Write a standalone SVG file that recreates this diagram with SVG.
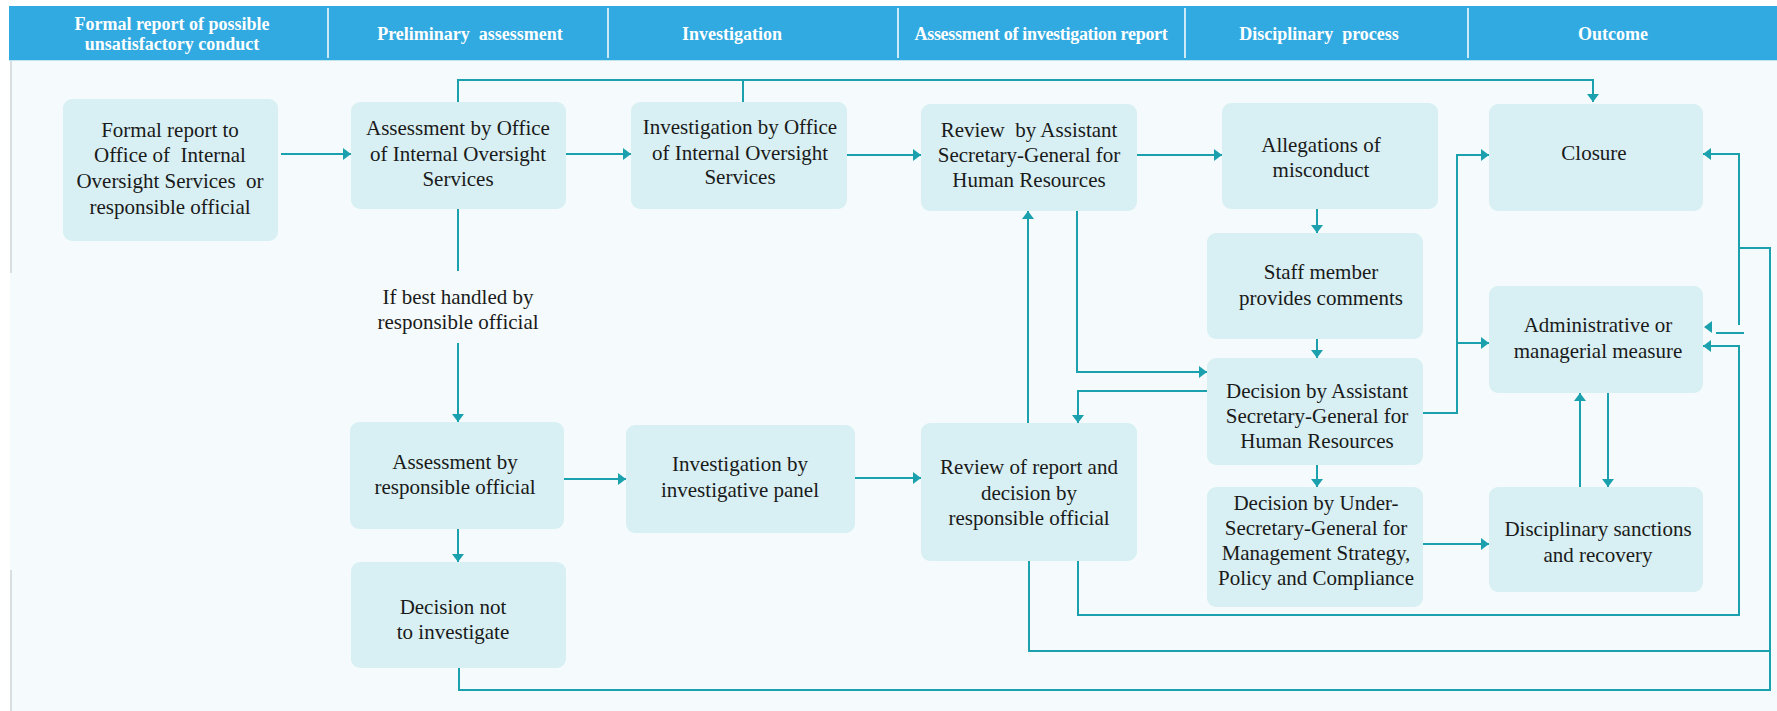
<svg xmlns="http://www.w3.org/2000/svg" width="1777" height="711" viewBox="0 0 1777 711">
<defs>
<style>
.hdr{fill:#31aae1}
.div{stroke:#ffffff;stroke-width:1.5}
.ht{font-family:"Liberation Serif","Times New Roman",serif;font-weight:bold;font-size:18px;fill:#ffffff;text-anchor:middle;white-space:pre}
.box{fill:#d8f0f3}
.t{font-family:"Liberation Serif","Times New Roman",serif;font-size:21px;fill:#1a1a1a;text-anchor:middle;white-space:pre}
.c{fill:none;stroke:#1ba1ae;stroke-width:2}
.a{marker-end:url(#ah)}
</style>
<marker id="ah" markerUnits="userSpaceOnUse" markerWidth="9" markerHeight="13" refX="8" refY="6" orient="auto">
<path d="M0,0 L8,6 L0,12 z" fill="#1ba1ae"/>
</marker>
</defs>
<rect x="0" y="0" width="1777" height="711" fill="#ffffff"/>
<rect x="10" y="60" width="1767" height="651" fill="#f5fbfc"/>
<line x1="11" y1="60" x2="11" y2="273" stroke="#cfd6d8" stroke-width="1.5"/>
<line x1="11" y1="570" x2="11" y2="711" stroke="#cfd6d8" stroke-width="1.5"/>
<g id="header">
<rect class="hdr" x="9" y="6" width="1768" height="54"/>
<line x1="9" y1="60.5" x2="1777" y2="60.5" stroke="#bfe3ef" stroke-width="1"/>
<line class="div" x1="328" y1="8" x2="328" y2="58"/>
<line class="div" x1="608" y1="8" x2="608" y2="58"/>
<line class="div" x1="898" y1="8" x2="898" y2="58"/>
<line class="div" x1="1185" y1="8" x2="1185" y2="58"/>
<line class="div" x1="1468" y1="8" x2="1468" y2="58"/>
<text class="ht" x="172" y="30">Formal report of possible</text>
<text class="ht" x="172" y="50">unsatisfactory conduct</text>
<text class="ht" x="470" y="40" xml:space="preserve">Preliminary  assessment</text>
<text class="ht" x="732" y="40">Investigation</text>
<text class="ht" x="1041" y="40" letter-spacing="-0.3">Assessment of investigation report</text>
<text class="ht" x="1319" y="40" xml:space="preserve">Disciplinary  process</text>
<text class="ht" x="1613" y="40">Outcome</text>
</g>
<g id="connectors">
<line class="c a" x1="281" y1="154" x2="351" y2="154"/>
<line class="c a" x1="566" y1="154" x2="631" y2="154"/>
<line class="c a" x1="847" y1="155" x2="921" y2="155"/>
<line class="c a" x1="1137" y1="155" x2="1222" y2="155"/>
<path class="c a" d="M458,102 V80 H1593 V102"/>
<line class="c" x1="743" y1="102" x2="743" y2="80"/>
<line class="c" x1="458" y1="209" x2="458" y2="271"/>
<line class="c a" x1="458" y1="343" x2="458" y2="422"/>
<line class="c a" x1="564" y1="479" x2="626" y2="479"/>
<line class="c a" x1="458" y1="529" x2="458" y2="562"/>
<line class="c a" x1="855" y1="478" x2="921" y2="478"/>
<line class="c a" x1="1317" y1="209" x2="1317" y2="233"/>
<line class="c a" x1="1317" y1="339" x2="1317" y2="358"/>
<line class="c a" x1="1317" y1="465" x2="1317" y2="487"/>
<line class="c a" x1="1028" y1="423" x2="1028" y2="211"/>
<path class="c a" d="M1077,211 V372 H1207"/>
<path class="c a" d="M1207,391 H1078 V423"/>
<path class="c a" d="M1423,413 H1457 V155 H1489"/>
<line class="c a" x1="1457" y1="343" x2="1489" y2="343"/>
<line class="c a" x1="1423" y1="544" x2="1489" y2="544"/>
<line class="c a" x1="1580" y1="487" x2="1580" y2="393"/>
<line class="c a" x1="1608" y1="393" x2="1608" y2="487"/>
<path class="c a" d="M1078,561 V615 H1739 V346 H1703"/>
<path class="c" d="M1029,561 V651 H1770"/>
<path class="c" d="M459,668 V690 H1770 V248 H1739"/>
<path class="c a" d="M1739,325 V154 H1703"/>
<line class="c" x1="1716" y1="333" x2="1744" y2="333"/>
<path d="M1712,321 L1704,327 L1712,333 z" fill="#1ba1ae"/>
</g>
<g id="n1"><rect class="box" x="63" y="99" width="215" height="142" rx="9"/>
<text class="t" x="170" y="137">Formal report to</text>
<text class="t" x="170" y="162" xml:space="preserve">Office of  Internal</text>
<text class="t" x="170" y="188" xml:space="preserve">Oversight Services  or</text>
<text class="t" x="170" y="214">responsible official</text></g>
<g id="n2"><rect class="box" x="351" y="102" width="215" height="107" rx="9"/>
<text class="t" x="458" y="135">Assessment by Office</text>
<text class="t" x="458" y="161">of Internal Oversight</text>
<text class="t" x="458" y="186">Services</text></g>
<g id="n3"><rect class="box" x="631" y="102" width="216" height="107" rx="9"/>
<text class="t" x="740" y="134">Investigation by Office</text>
<text class="t" x="740" y="160">of Internal Oversight</text>
<text class="t" x="740" y="184">Services</text></g>
<g id="n4"><rect class="box" x="921" y="104" width="216" height="107" rx="9"/>
<text class="t" x="1029" y="137" xml:space="preserve">Review  by Assistant</text>
<text class="t" x="1029" y="162">Secretary-General for</text>
<text class="t" x="1029" y="187">Human Resources</text></g>
<g id="n5"><rect class="box" x="1222" y="103" width="216" height="106" rx="9"/>
<text class="t" x="1321" y="152">Allegations of</text>
<text class="t" x="1321" y="177">misconduct</text></g>
<g id="closure"><rect class="box" x="1489" y="104" width="214" height="107" rx="9"/>
<text class="t" x="1594" y="160">Closure</text></g>
<g id="label"><text class="t" x="458" y="304">If best handled by</text>
<text class="t" x="458" y="329">responsible official</text></g>
<g id="staff"><rect class="box" x="1207" y="233" width="216" height="106" rx="9"/>
<text class="t" x="1321" y="279">Staff member</text>
<text class="t" x="1321" y="305">provides comments</text></g>
<g id="admin"><rect class="box" x="1489" y="286" width="214" height="107" rx="9"/>
<text class="t" x="1598" y="332">Administrative or</text>
<text class="t" x="1598" y="358">managerial measure</text></g>
<g id="dasg"><rect class="box" x="1207" y="358" width="216" height="107" rx="9"/>
<text class="t" x="1317" y="398">Decision by Assistant</text>
<text class="t" x="1317" y="423">Secretary-General for</text>
<text class="t" x="1317" y="448">Human Resources</text></g>
<g id="n6"><rect class="box" x="350" y="422" width="214" height="107" rx="9"/>
<text class="t" x="455" y="469">Assessment by</text>
<text class="t" x="455" y="494">responsible official</text></g>
<g id="n7"><rect class="box" x="626" y="425" width="229" height="108" rx="9"/>
<text class="t" x="740" y="471">Investigation by</text>
<text class="t" x="740" y="497">investigative panel</text></g>
<g id="n9"><rect class="box" x="921" y="423" width="216" height="138" rx="9"/>
<text class="t" x="1029" y="474">Review of report and</text>
<text class="t" x="1029" y="500">decision by</text>
<text class="t" x="1029" y="525">responsible official</text></g>
<g id="usg"><rect class="box" x="1207" y="487" width="216" height="120" rx="9"/>
<text class="t" x="1316" y="510">Decision by Under-</text>
<text class="t" x="1316" y="535">Secretary-General for</text>
<text class="t" x="1316" y="560">Management Strategy,</text>
<text class="t" x="1316" y="585">Policy and Compliance</text></g>
<g id="sanctions"><rect class="box" x="1489" y="487" width="214" height="105" rx="9"/>
<text class="t" x="1598" y="536">Disciplinary sanctions</text>
<text class="t" x="1598" y="562">and recovery</text></g>
<g id="n8"><rect class="box" x="351" y="562" width="215" height="106" rx="9"/>
<text class="t" x="453" y="614">Decision not</text>
<text class="t" x="453" y="639">to investigate</text></g>
</svg>
